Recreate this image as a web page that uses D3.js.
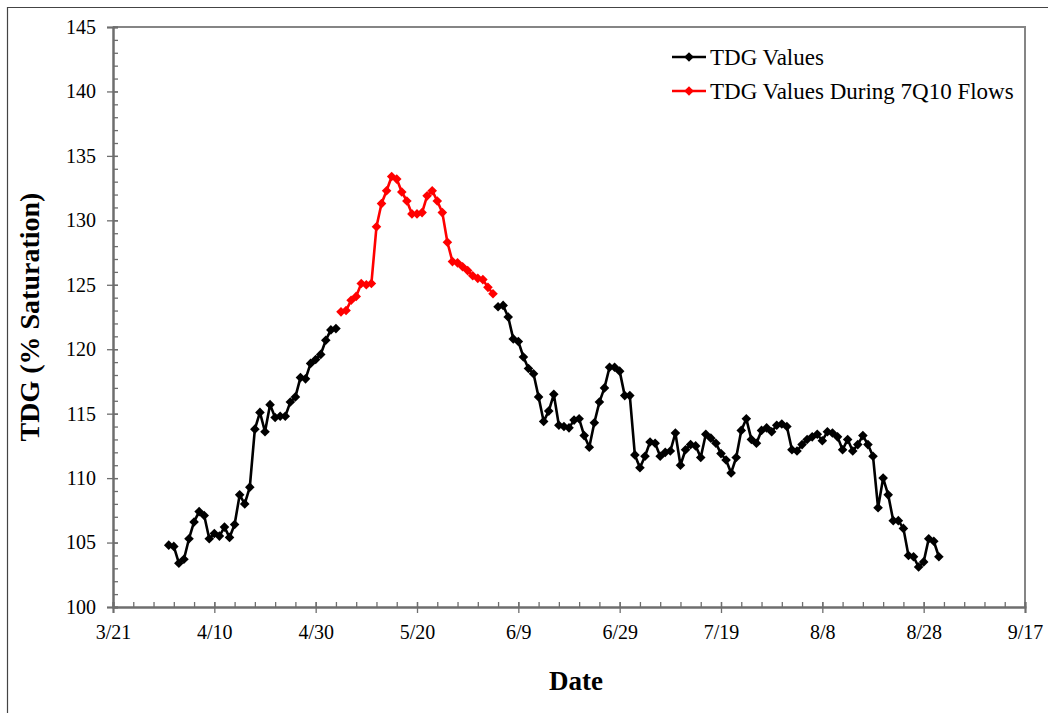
<!DOCTYPE html>
<html>
<head>
<meta charset="utf-8">
<script src="https://cdn.jsdelivr.net/npm/d3@7"></script>
<style>
  html, body { margin: 0; padding: 0; background: #fff; }
  svg { display: block; }
  text { font-family: "Liberation Serif", "Times New Roman", serif; fill: #000; }
</style>
</head>
<body>
<svg id="chart" width="1048" height="713"></svg>
<script>
// Daily total dissolved gas readings, one value per day starting 4/1
const firstDay = "2011-04-01";
const tdgValues = [
  104.8, 104.7, 103.4, 103.7, 105.3, 106.6, 107.4, 107.1, 105.3, 105.7,
  105.5, 106.2, 105.4, 106.4, 108.7, 108.0, 109.3, 113.8, 115.1, 113.6,
  115.7, 114.7, 114.8, 114.8, 115.9, 116.3, 117.8, 117.7, 118.9, 119.2,
  119.6, 120.7, 121.5, 121.6, 122.9, 123.0, 123.8, 124.1, 125.1, 125.0,
  125.1, 129.5, 131.3, 132.3, 133.4, 133.2, 132.2, 131.5, 130.5, 130.5,
  130.6, 131.9, 132.3, 131.5, 130.6, 128.3, 126.8, 126.7, 126.4, 126.1,
  125.7, 125.5, 125.4, 124.8, 124.3, 123.3, 123.4, 122.5, 120.8, 120.6,
  119.4, 118.5, 118.1, 116.3, 114.4, 115.2, 116.5, 114.1, 114.0, 113.9,
  114.5, 114.6, 113.3, 112.4, 114.3, 115.9, 117.0, 118.6, 118.6, 118.3,
  116.4, 116.4, 111.8, 110.8, 111.7, 112.8, 112.7, 111.7, 112.0, 112.1,
  113.5, 111.0, 112.2, 112.6, 112.5, 111.6, 113.4, 113.1, 112.7, 111.9,
  111.4, 110.4, 111.6, 113.7, 114.6, 113.0, 112.7, 113.7, 113.9, 113.6,
  114.1, 114.2, 114.0, 112.2, 112.1, 112.6, 113.0, 113.2, 113.4, 112.9,
  113.6, 113.5, 113.2, 112.2, 113.0, 112.1, 112.6, 113.3, 112.6, 111.7,
  107.7, 110.0, 108.7, 106.7, 106.7, 106.1, 104.0, 103.9, 103.1, 103.5,
  105.3, 105.1, 103.9
];
// Days on which river flow was at or below 7Q10
const flowWindowStart = "2011-05-05";
const flowWindowEnd = "2011-06-04";

const xDomain = ["2011-03-21", "2011-09-17"];
const yDomain = [100, 145];
const yTickStep = 5;
const xTickStepDays = 20;
const xMinorStepDays = 4;
const seriesNames = ["TDG Values", "TDG Values During 7Q10 Flows"];
const seriesColors = ["#000000", "#ff0000"];

const parse = d3.utcParse("%Y-%m-%d");
const start = parse(firstDay);
const records = tdgValues.map((v, i) => ({ date: d3.utcDay.offset(start, i), value: v }));
const w0 = parse(flowWindowStart), w1 = parse(flowWindowEnd);
const inWindow = d => d.date >= w0 && d.date <= w1;

const svg = d3.select("#chart");
const plot = { left: 113, right: 1025, top: 27, bottom: 607 };

const x = d3.scaleUtc().domain(xDomain.map(parse)).range([plot.left, plot.right]);
const y = d3.scaleLinear().domain(yDomain).range([plot.bottom, plot.top]);

// outer frame
svg.append("path")
  .attr("d", `M7.5,713 L7.5,7.5 L1048,7.5`)
  .attr("fill", "none").attr("stroke", "#444").attr("stroke-width", 1.2);

// plot area frame (top and right)
svg.append("path")
  .attr("d", `M${plot.left},${plot.top} L${plot.right},${plot.top} L${plot.right},${plot.bottom}`)
  .attr("fill", "none").attr("stroke", "#858585").attr("stroke-width", 2);

const axisColor = "#6e6e6e";

// y axis
const yMajor = d3.range(yDomain[0], yDomain[1] + 0.001, yTickStep);
const yMinor = d3.range(yDomain[0], yDomain[1] + 0.001, 1);
const gy = svg.append("g").attr("transform", `translate(${plot.left},0)`);
gy.call(d3.axisLeft(y).tickValues(yMajor).tickSize(6).tickPadding(11).tickFormat(d3.format("d")));
gy.append("g").call(d3.axisLeft(y).tickValues(yMinor).tickSize(-5).tickFormat(""));

// x axis
const xMajor = d3.utcDay.range(parse(xDomain[0]), d3.utcDay.offset(parse(xDomain[1]), 1))
  .filter((d, i) => i % xTickStepDays === 0);
const xMinor = d3.utcDay.range(parse(xDomain[0]), d3.utcDay.offset(parse(xDomain[1]), 1))
  .filter((d, i) => i % xMinorStepDays === 0);
const gx = svg.append("g").attr("transform", `translate(0,${plot.bottom})`);
gx.call(d3.axisBottom(x).tickValues(xMajor).tickSize(6).tickPadding(12).tickFormat(d3.utcFormat("%-m/%-d")));
gx.append("g").call(d3.axisBottom(x).tickValues(xMinor).tickSize(-5).tickFormat(""));

[gx, gy].forEach(g => {
  g.attr("font-family", "Liberation Serif");
  g.selectAll(".domain").attr("stroke", axisColor).attr("stroke-width", 2);
  g.selectAll("line").attr("stroke", axisColor).attr("stroke-width", 1.3);
  g.selectAll("text").attr("font-family", "Liberation Serif").attr("font-size", 20).attr("fill", "#000");
});
gy.selectAll(".tick line").filter(function () { return +this.getAttribute("x2") === -6; })
  .attr("x1", 5);
gx.selectAll(".tick line").filter(function () { return +this.getAttribute("y2") === 6; })
  .attr("y1", -5);

// axis titles
svg.append("text")
  .attr("transform", `translate(39,${(plot.top + plot.bottom) / 2}) rotate(-90)`)
  .attr("text-anchor", "middle")
  .attr("font-size", 28).attr("font-weight", "bold")
  .text("TDG (% Saturation)");
svg.append("text")
  .attr("x", (plot.left + plot.right) / 2 + 7).attr("y", 690)
  .attr("text-anchor", "middle")
  .attr("font-size", 27).attr("font-weight", "bold")
  .text("Date");

// series
const line = d3.line().x(d => x(d.date)).y(d => y(d.value));
const diamond = r => `M0,${-r}L${r},0L0,${r}L${-r},0Z`;

const before = records.filter(d => d.date < w0);
const during = records.filter(inWindow);
const after = records.filter(d => d.date > w1);

function drawSeries(data, color) {
  svg.append("path").datum(data)
    .attr("d", line).attr("fill", "none")
    .attr("stroke", color).attr("stroke-width", 2.6).attr("stroke-linejoin", "round");
  svg.append("g").selectAll("path").data(data).join("path")
    .attr("transform", d => `translate(${x(d.date)},${y(d.value)})`)
    .attr("d", diamond(4.8)).attr("fill", color);
}
drawSeries(before, seriesColors[0]);
drawSeries(after, seriesColors[0]);
drawSeries(during, seriesColors[1]);

// legend
const legend = svg.append("g").attr("transform", "translate(672,57)");
seriesNames.forEach((name, i) => {
  const g = legend.append("g").attr("transform", `translate(0,${i * 34})`);
  g.append("line").attr("x1", 0).attr("x2", 34).attr("y1", 0).attr("y2", 0)
    .attr("stroke", seriesColors[i]).attr("stroke-width", 2.6);
  g.append("path").attr("transform", "translate(17,0)").attr("d", diamond(4.8)).attr("fill", seriesColors[i]);
  g.append("text").attr("x", 38).attr("y", 8).attr("font-size", 23).text(name);
});
</script>
</body>
</html>
